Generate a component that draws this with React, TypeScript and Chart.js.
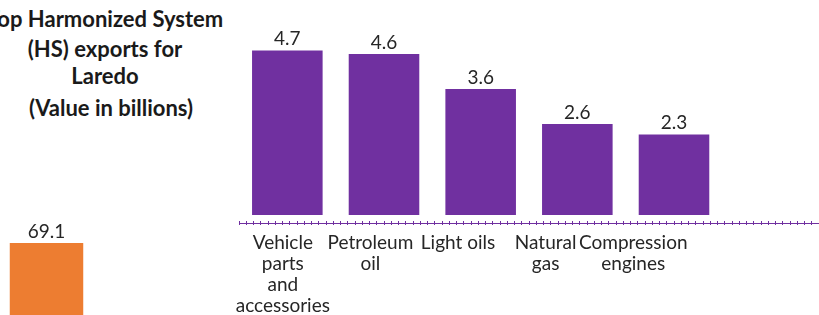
import React, { useEffect, useRef } from 'react';
import { Chart, registerables } from 'chart.js';

Chart.register(...registerables);

// ---- data ----
const categories = ['Vehicle parts and accessories', 'Petroleum oil', 'Light oils', 'Natural gas', 'Compression engines'];
const categoryLines = [['Vehicle', 'parts', 'and', 'accessories'], ['Petroleum', 'oil'], ['Light oils'], ['Natural', 'gas'], ['Compression', 'engines']];
const exportValues = [4.7, 4.6, 3.6, 2.6, 2.3];
const totalCategories = ['Total'];
const totalValues = [69.1];
const titleLines = ['Top Harmonized System', '(HS) exports for', 'Laredo'];
const subtitleText = '(Value in billions)';

// ---- styles ----
const PURPLE = '#7030A0';
const ORANGE = '#ED7D31';
const TEXT = '#262626';
const FONT = 'Lato, "Open Sans", sans-serif';

const valueLabelPlugin = {
  id: 'valueLabels',
  afterDatasetsDraw(chart: any) {
    const ctx = chart.ctx;
    const meta = chart.getDatasetMeta(0);
    const data = chart.data.datasets[0].data;
    ctx.save();
    ctx.font = `19px ${FONT}`;
    ctx.fillStyle = TEXT;
    ctx.textAlign = 'center';
    ctx.textBaseline = 'alphabetic';
    meta.data.forEach((el: any, i: number) => {
      const v = data[i];
      if (v == null) return;
      ctx.fillText(Number(v).toFixed(1), el.x, el.y - 5);
    });
    ctx.restore();
  },
};

function MainChart() {
  const ref = useRef<HTMLCanvasElement | null>(null);
  useEffect(() => {
    if (!ref.current) return;
    const chart = new Chart(ref.current, {
      type: 'bar',
      data: {
        labels: [...categories, ''],
        datasets: [
          {
            data: [...exportValues, null],
            backgroundColor: PURPLE,
            borderWidth: 0,
            barPercentage: 0.73,
            categoryPercentage: 1,
            xAxisID: 'x',
            yAxisID: 'y',
          },
        ],
      },
      options: {
        responsive: false,
        animation: false,
        events: [],
        layout: { padding: { left: 39, right: 0, top: 5, bottom: 0 } },
        plugins: { legend: { display: false }, tooltip: { enabled: false }, title: { display: false } },
        scales: {
          x: { type: 'category', display: false, offset: true, grid: { display: false } },
          xl: {
            type: 'linear',
            position: 'bottom',
            offset: false,
            bounds: 'data',
            min: -0.5,
            max: 6.12,
            afterBuildTicks: (s: any) => {
              s.ticks = categoryLines.map((_, i) => ({ value: i }));
            },
            afterFit: (s: any) => { s.height = 92; },
            ticks: {
              autoSkip: false,
              maxRotation: 0,
              padding: 9,
              color: TEXT,
              font: { family: FONT, size: 19, lineHeight: '21px' },
              callback: (v: any) => {
                const i = Math.round(v);
                return categoryLines[i] ?? '';
              },
            },
            grid: { display: false, drawTicks: false, offset: false },
            border: { display: true, color: PURPLE, width: 1 },
          },
          xt: {
            type: 'linear',
            position: { y: -0.17 },
            offset: false,
            bounds: 'data',
            min: 0,
            max: 1,
            ticks: { display: false, stepSize: 0.0125, autoSkip: false, maxTicksLimit: 500 },
            grid: { display: true, offset: false, drawOnChartArea: false, drawTicks: true, tickLength: 4, color: PURPLE, lineWidth: 1 },
            border: { display: false },
          },
          y: { display: false, min: -0.23, max: 6 },
        },
      } as any,
      plugins: [valueLabelPlugin],
    });
    return () => chart.destroy();
  }, []);
  return <canvas ref={ref} width={619} height={315} style={{ position: 'absolute', left: 200, top: 0 }} />;
}

function TotalChart() {
  const ref = useRef<HTMLCanvasElement | null>(null);
  useEffect(() => {
    if (!ref.current) return;
    const chart = new Chart(ref.current, {
      type: 'bar',
      data: {
        labels: totalCategories,
        datasets: [
          {
            data: totalValues,
            backgroundColor: ORANGE,
            borderWidth: 0,
            barPercentage: 0.79,
            categoryPercentage: 1,
          },
        ],
      },
      options: {
        responsive: false,
        animation: false,
        events: [],
        layout: { padding: { left: 0, right: 17, top: 28, bottom: 0 } },
        plugins: { legend: { display: false }, tooltip: { enabled: false } },
        scales: {
          x: { display: false, offset: true },
          y: { display: false, min: 0, max: 69.1 },
        },
      } as any,
      plugins: [valueLabelPlugin],
    });
    return () => chart.destroy();
  }, []);
  return <canvas ref={ref} width={110} height={100} style={{ position: 'absolute', left: 0, top: 215 }} />;
}

const titleStyle: React.CSSProperties = {
  position: 'absolute',
  width: 300,
  textAlign: 'center',
  fontFamily: FONT,
  fontWeight: 700,
  fontSize: 22,
  lineHeight: '24px',
  color: '#1a1a1a',
  whiteSpace: 'nowrap',
};

export default function App() {
  const tops = [7, 37, 64];
  return (
    <div
      style={{
        position: 'fixed',
        left: 0,
        top: 0,
        width: 819,
        height: 315,
        overflow: 'hidden',
        background: '#ffffff',
      }}
    >
      {titleLines.map((t, i) => (
        <div key={i} style={{ ...titleStyle, left: 105 - 150, top: tops[i] }}>
          {t}
        </div>
      ))}
      <div style={{ ...titleStyle, left: 111 - 150, top: 96 }}>{subtitleText}</div>
      <TotalChart />
      <MainChart />
    </div>
  );
}
